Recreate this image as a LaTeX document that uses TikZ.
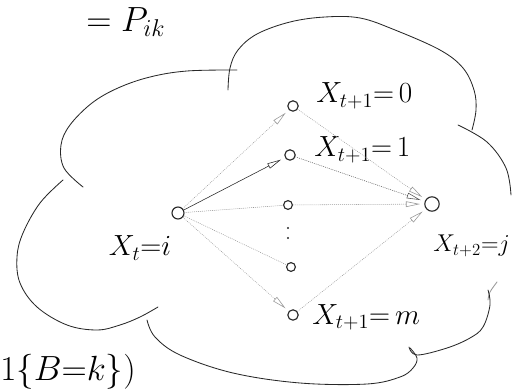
\documentclass[tikz,border=0pt]{standalone}
\usepackage{amsmath}
\usepackage{tikz}
\usetikzlibrary{arrows.meta,positioning}
\definecolor{pencil}{RGB}{40,40,40}
\definecolor{faint}{RGB}{150,150,150}

\begin{document}
\begin{tikzpicture}[x=0.025cm, y=-0.025cm, line cap=round]
  \tikzset{
    state/.style={draw=pencil, thick, circle, inner sep=0pt, minimum size=0.26cm},
    lbl/.style={inner sep=0pt, font=\fontsize{20}{22}\selectfont},
    cloudline/.style={pencil, line width=0.6pt, smooth, tension=0.6},
    hand/.style={-{Triangle[open,length=10pt,width=4pt]}, shorten >=3pt},
  }
  \useasboundingbox (0,0) rectangle (513,392);
  % Cloud, drawn lobe by lobe
  \draw[cloudline] plot coordinates {(83,187) (64,168) (61,145) (70,125) (92,103) (118,88) (150,77) (187,71) (237,70)};
  \draw[cloudline] plot coordinates {(228,90) (230,68) (238,50) (257,34) (290,22) (325,17) (360,18) (395,30) (440,50) (463,68) (474,90) (476,110) (472,130)};
  \draw[cloudline] plot coordinates {(458,125) (487,142) (506,168) (511,195)};
  \draw[cloudline, faint] plot coordinates {(497,282) (490,292) (488,300)};
  \draw[cloudline] plot coordinates {(488,290) (490,305) (483,327) (470,338) (447,348) (417,355) (409,347)};
  \draw[cloudline] plot coordinates {(410,348) (417,358) (413,368) (400,377) (367,384) (300,383) (233,373) (180,355) (155,337) (147,320)};
  \draw[cloudline] plot coordinates {(158,307) (140,317) (120,325) (97,330) (67,325) (37,307) (20,283) (17,257) (23,233) (40,203) (63,180)};
  % States
  \node[state, minimum size=0.3cm] (xi) at (178,213) {};
  \node[state] (x0) at (293,106) {};
  \node[state] (x1) at (290,155) {};
  \node[state, minimum size=0.22cm] (xa) at (288,205) {};
  \node[state, minimum size=0.22cm] (xb) at (291,267) {};
  \node[state] (xm) at (293,315) {};
  \node[state, minimum size=0.36cm] (xj) at (432,204) {};
  % Vertical dots
  \fill[pencil] (288,228) circle (1.1) (288,238) circle (1.1);
  % Labels
  \node[lbl, font=\fontsize{25}{27}\selectfont, anchor=west] (pik) at (86,22) {$= P_{ik}$};
  \node[lbl] (lxi) at (140,248) {$X_t{=}i$};
  \node[lbl, anchor=west] (lx0) at (316,96) {$X_{t+1}{=}\,0$};
  \node[lbl, anchor=west] (lx1) at (314,150) {$X_{t+1}{=}\,1$};
  \node[lbl, anchor=west] (lxm) at (312,317) {$X_{t+1}{=}\,m$};
  \node[lbl, font=\fontsize{18}{20}\selectfont, anchor=east] (lxj) at (510,246) {$X_{t+2}{=}j$};
  \node[lbl, font=\fontsize{23}{25}\selectfont, anchor=base west] (ind) at (0,381) {$1\{B{=}k\})$};
  % First step
  \draw[hand, pencil, thin] (xi) -- (x1);
  \draw[hand, faint, densely dotted] (xi) -- (x0);
  \draw[hand, faint, densely dotted] (xi) -- (xm);
  \draw[faint, densely dotted] (xi) -- (xa);
  \draw[faint, densely dotted] (xi) -- (xb);
  % Second step
  \draw[hand, pencil!80, densely dotted] (x1) -- (xj);
  \draw[hand, faint, densely dotted] (x0) -- (xj);
  \draw[hand, faint, densely dotted] (xa) -- (xj);
  \draw[hand, faint, densely dotted] (xm) -- (xj);
\end{tikzpicture}
\end{document}
